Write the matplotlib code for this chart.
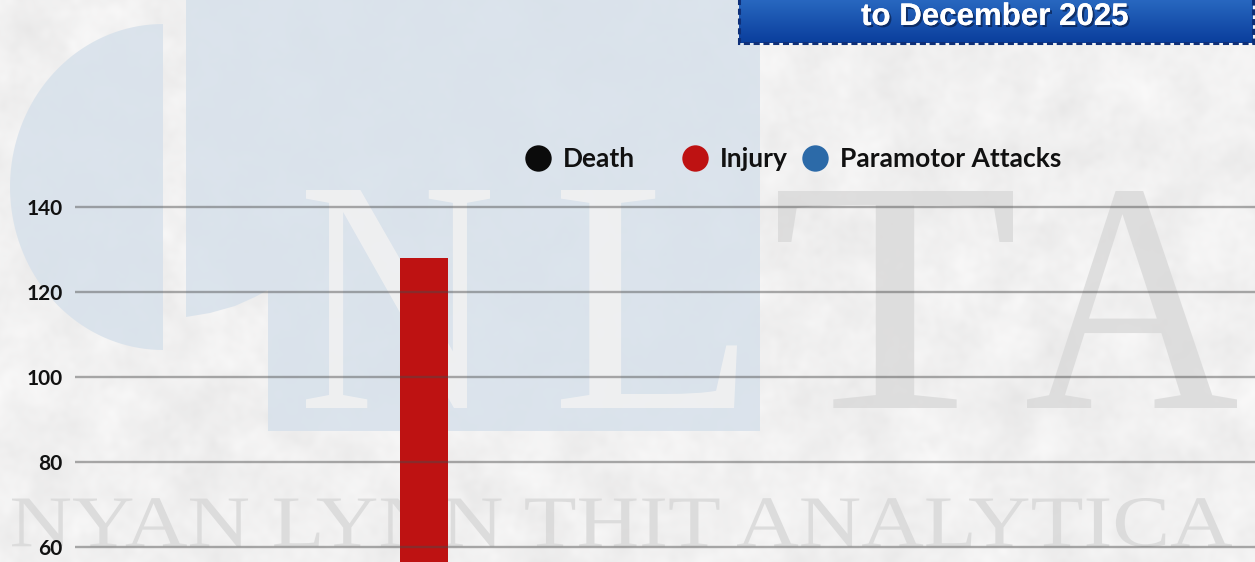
import numpy as np
import matplotlib
matplotlib.use("Agg")
import matplotlib.pyplot as plt
from matplotlib.patches import Polygon, PathPatch, Rectangle
from matplotlib.textpath import TextPath
from matplotlib.font_manager import FontProperties
from matplotlib.transforms import Affine2D
from matplotlib.lines import Line2D
import matplotlib.patheffects as pe

# ---------------- data ----------------
categories = ["2025"]
injury = [128]
series_names = ["Death", "Injury", "Paramotor Attacks"]
series_colors = ["#0b0b0b", "#be1212", "#2c6aa8"]
yticks = [60, 80, 100, 120, 140]
title_text = "to December 2025"

# ---------------- figure ----------------
W, H = 1255, 562
fig = plt.figure(figsize=(W / 100, H / 100), dpi=100)

# background axes in pixel coordinates (decoration only)
bg = fig.add_axes([0, 0, 1, 1], zorder=0)
bg.set_xlim(0, W)
bg.set_ylim(H, 0)
bg.axis("off")

def smooth_noise(h, w, sigma, rng):
    n = rng.standard_normal((h, w))
    fy = np.fft.fftfreq(h)[:, None]
    fx = np.fft.fftfreq(w)[None, :]
    g = np.exp(-2 * (np.pi * sigma) ** 2 * (fx ** 2 + fy ** 2))
    s = np.real(np.fft.ifft2(np.fft.fft2(n) * g))
    return (s - s.mean()) / s.std()

rng = np.random.default_rng(7)
tex = 0.3 * smooth_noise(H, W, 3, rng) + 0.7 * smooth_noise(H, W, 12, rng)
base = 241 + 3.2 * tex
img = np.clip(np.dstack([base, base - 0.5, base - 0.5]) / 255.0, 0, 1)
bg.imshow(img, extent=[0, W, H, 0], aspect="auto", zorder=0, interpolation="bilinear")

# blue "NL" logo block
blue = "#d7e1eb"
t = np.linspace(np.pi / 2, 3 * np.pi / 2, 80)
half = np.column_stack([163 + 153 * np.cos(t), 187 - 163 * np.sin(t)])
bg.add_patch(Polygon(half, closed=True, fc=blue, ec="none", alpha=0.85, zorder=1))
rect_pts = [(186, -5), (760, -5), (760, 431), (268, 431), (268, 290),
            (255, 297), (235, 306), (210, 313), (186, 317)]
bg.add_patch(Polygon(rect_pts, closed=True, fc=blue, ec="none", alpha=0.85, zorder=1))

serif = FontProperties(family="Liberation Serif")

def fitted_text(s, x0, x1, y0, y1, color, alpha, z):
    tp = TextPath((0, 0), s, size=100, prop=serif)
    ext = tp.get_extents()
    tr = (Affine2D().translate(-ext.x0, -ext.y0)
          .scale((x1 - x0) / ext.width, -(y1 - y0) / ext.height)
          .translate(x0, y1))
    bg.add_patch(PathPatch(tr.transform_path(tp), fc=color, ec="none", alpha=alpha, zorder=z))

fitted_text("N", 306, 490, 190, 408, "#f2f2f2", 0.85, 2)
fitted_text("L", 561, 737, 190, 408, "#f2f2f2", 0.85, 2)
fitted_text("T", 778, 1013, 191, 408, "#dadada", 0.85, 2)
fitted_text("A", 1027, 1237, 191, 408, "#dadada", 0.85, 2)
fitted_text("NYAN LYNN THIT ANALYTICA", 12, 1232, 498, 547, "#dadada", 0.9, 2)

# title box
grad = np.linspace(0, 1, 60)[:, None]
top_c = np.array([0x2a, 0x6a, 0xc2]) / 255
bot_c = np.array([0x0a, 0x3e, 0x9c]) / 255
gimg = top_c[None, None, :] * (1 - grad[..., None]) + bot_c[None, None, :] * grad[..., None]
gimg = np.repeat(gimg, 2, axis=1)
bg.imshow(gimg, extent=[739, 1253, 43, -3], aspect="auto", zorder=3, interpolation="bilinear")
bg.add_patch(Rectangle((739, -3), 514, 46, fc="none", ec="#0e2f78", lw=2.2,
                       ls=(0, (2, 1.2)), zorder=4))
bg.text(995, 17, title_text, color="white", fontsize=22.5, fontweight="bold",
        family="Liberation Sans", ha="center", va="center", zorder=5,
        path_effects=[pe.withSimplePatchShadow(offset=(1.5, -1.5), shadow_rgbFace="#0a1f4a", alpha=0.7),
                      pe.Normal()])

# ---------------- chart axes ----------------
px_per_unit = 4.25
y_top_px = 198.5
v_top = 140 + (207 - y_top_px) / px_per_unit
v_bot = 140 - (H - 207) / px_per_unit
ax = fig.add_axes([75 / W, 0, (W - 75) / W, (H - y_top_px) / H], zorder=1)
ax.patch.set_alpha(0)
x = np.arange(len(categories))
bar_w = 0.4
ax.bar(x, injury, width=bar_w, color=series_colors[1], zorder=1)
ax.set_ylim(v_bot, v_top)
span = bar_w * (W - 75) / 48.0
lo = -(424 - 75) / (W - 75) * span
ax.set_xlim(lo, lo + span)
ax.set_yticks(yticks)
ax.set_yticklabels([str(v) for v in yticks])
ax.yaxis.grid(True, color="#4a4a4a", alpha=0.45, lw=1.7)
ax.set_axisbelow(False)
ax.tick_params(axis="y", length=0, pad=9, labelsize=15)
for lab in ax.get_yticklabels():
    lab.set_fontweight("bold")
    lab.set_family("Lato")
    lab.set_color("#111111")
ax.set_xticks([])
for s in ax.spines.values():
    s.set_visible(False)

# ---------------- legend ----------------
leg_pos = [541, 698, 818]
for name, col, xp in zip(series_names, series_colors, leg_pos):
    h = Line2D([], [], marker="o", ls="none", markersize=19, color=col, markeredgewidth=0)
    lg = fig.legend([h], [name], loc="center left",
                    bbox_to_anchor=((xp - 19) / W, 1 - 159 / H),
                    frameon=False, handletextpad=0.3, borderpad=0, borderaxespad=0,
                    handlelength=1.25,
                    prop=FontProperties(family="Lato", weight="bold", size=19))
    for txt in lg.get_texts():
        txt.set_color("#111111")

fig.savefig("out.png", dpi=100)
